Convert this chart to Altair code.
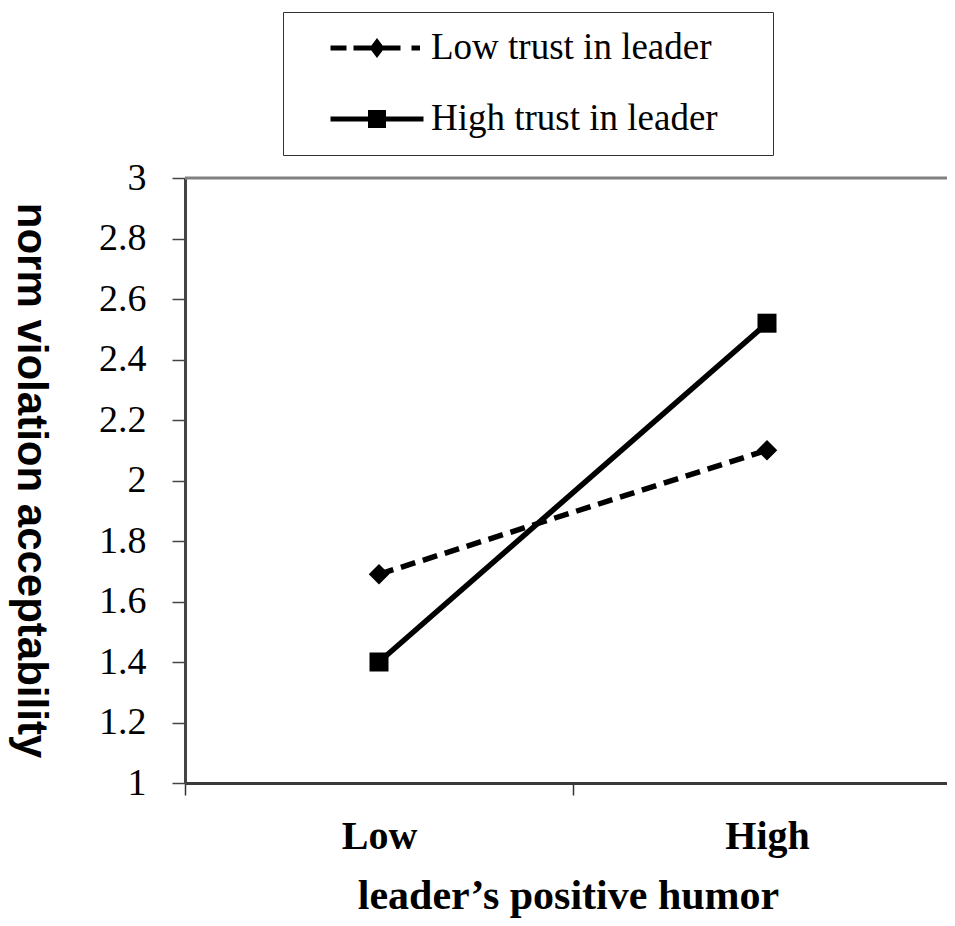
import altair as alt
import pandas as pd

# ---- data ----
humor_levels = ["Low", "High"]
series_names = ["Low trust in leader", "High trust in leader"]
low_trust_values = [1.69, 2.10]
high_trust_values = [1.40, 2.52]
y_ticks = [1.0, 1.2, 1.4, 1.6, 1.8, 2.0, 2.2, 2.4, 2.6, 2.8, 3.0]

rows = []
for h, v in zip(humor_levels, low_trust_values):
    rows.append({"humor": h, "series": series_names[0], "value": v})
for h, v in zip(humor_levels, high_trust_values):
    rows.append({"humor": h, "series": series_names[1], "value": v})
df = pd.DataFrame(rows)

SERIF = "Liberation Serif"
SANS = "Liberation Sans"

# legend symbols: filled SVG paths drawing a (dashed / solid) line with a marker
# in its middle (1 path unit = 10 px at symbolSize 400)
diamond_path = (
    "M-4.65,-0.26L-3.05,-0.26L-3.05,0.26L-4.65,0.26Z"
    "M-2.35,-0.26L2.35,-0.26L2.35,0.26L-2.35,0.26Z"
    "M3.45,-0.26L4.3,-0.26L4.3,0.26L3.45,0.26Z"
    "M0,-1L0.75,0L0,1L-0.75,0Z"
)
square_path = (
    "M-4.65,-0.26L4.65,-0.26L4.65,0.26L-4.65,0.26Z"
    "M-0.9,-0.9L0.9,-0.9L0.9,0.9L-0.9,0.9Z"
)

x_enc = alt.X(
    "humor:N",
    sort=humor_levels,
    scale=alt.Scale(type="band", domain=humor_levels, paddingInner=0, paddingOuter=0),
    axis=alt.Axis(
        title="leader’s positive humor",
        tickBand="extent", labelAngle=0,
        labelFont=SERIF, labelFontWeight="bold", labelFontSize=40,
        labelColor="black", labelPadding=21,
        tickSize=12, tickColor="#333333", tickWidth=1.5,
        domainColor="#3a3a3a", domainWidth=3, grid=False,
        titleFont=SERIF, titleFontWeight="bold", titleFontSize=42,
        titleColor="black", titleX=383, titleY=125,
        titleBaseline="alphabetic", titleAlign="center",
    ),
)

y_enc = alt.Y(
    "value:Q",
    scale=alt.Scale(domain=[1, 3], nice=False, zero=False),
    axis=alt.Axis(
        title="norm violation acceptability",
        values=y_ticks, format=".1~f",
        labelFont=SERIF, labelFontSize=38, labelColor="black",
        labelPadding=26,
        tickSize=13, tickColor="#444444", tickWidth=1.5,
        domainColor="#444444", domainWidth=3, grid=False,
        titleFont=SANS, titleFontWeight="bold", titleFontSize=42,
        titleColor="black", titleAngle=90, titleBaseline="top",
        titleAlign="center", titleX=-135, titleY=302,
    ),
)

# the trailing em space (kept by a zero-width space) widens the legend box
legend_spec = alt.Legend(
    title=None, orient="none", legendX=98, legendY=-166,
    symbolStrokeWidth=0, symbolFillColor="black",
    labelExpr="datum.label + '\u2003\u200b'",
)

top_border = alt.Chart(pd.DataFrame({"edge": ["top"]})).mark_rule(
    color="#808080", strokeWidth=3
).encode(x=alt.value(0), x2=alt.value(800), y=alt.value(0))

low_line = alt.Chart(df).transform_filter(
    alt.datum.series == series_names[0]
).mark_line(color="black", strokeWidth=5.5, strokeDash=[15, 8]).encode(x=x_enc, y=y_enc)

high_line = alt.Chart(df).transform_filter(
    alt.datum.series == series_names[1]
).mark_line(color="black", strokeWidth=5.5).encode(x=x_enc, y=y_enc)

low_points = alt.Chart(df).transform_filter(
    alt.datum.series == series_names[0]
).mark_point(shape="diamond", filled=True, color="black", size=420, opacity=1).encode(
    x=x_enc, y=y_enc
)

high_points = alt.Chart(df).transform_filter(
    alt.datum.series == series_names[1]
).mark_point(shape="square", filled=True, color="black", size=361, opacity=1).encode(
    x=x_enc, y=y_enc
)

# invisible layer that only supplies the legend (line + marker symbols)
legend_layer = alt.Chart(df).mark_point(
    filled=True, color="black", opacity=0
).encode(
    x=x_enc,
    y=y_enc,
    shape=alt.Shape("series:N",
                    scale=alt.Scale(domain=series_names, range=[diamond_path, square_path]),
                    legend=legend_spec),
)

chart = alt.layer(top_border, low_line, high_line, low_points, high_points,
                  legend_layer).properties(
    width=776,
    height=605,
    autosize=alt.AutoSizeParams(type="none"),
    padding={"left": 177, "top": 170, "right": -14, "bottom": 135},
    background="white",
).configure_view(
    stroke=None
).configure_legend(
    padding=17.5, strokeColor="#333333", fillColor="white",
    labelFont=SERIF, labelFontSize=37, labelColor="black", labelLimit=700,
    labelOffset=35.5, symbolOffset=58, rowPadding=33,
    symbolSize=400, symbolStrokeWidth=0,
    symbolFillColor="black", symbolOpacity=1,
)

chart.save("out.html", embed_options={"renderer": "svg", "actions": False})
